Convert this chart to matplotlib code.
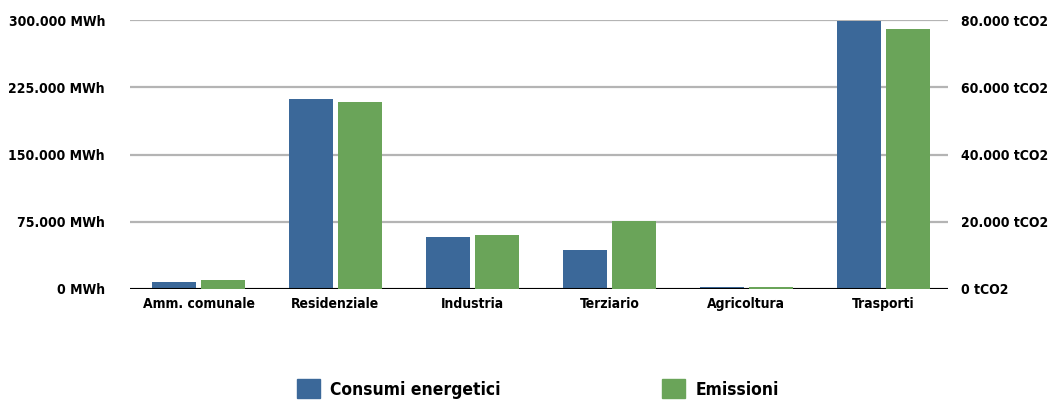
import matplotlib.pyplot as plt
from matplotlib.patches import Patch
from matplotlib.ticker import FuncFormatter
import numpy as np

categories = ["Amm. comunale", "Residenziale", "Industria", "Terziario", "Agricoltura", "Trasporti"]
consumi_mwh = [7500, 211500, 58500, 44000, 2600, 299000]
emissioni_tco2 = [2700, 55700, 16000, 20200, 600, 77500]

left_ticks = [0, 75000, 150000, 225000, 300000]
right_ticks = [0, 20000, 40000, 60000, 80000]

BLUE = "#3b6899"
GREEN = "#6aa459"

plt.rcParams['font.family'] = ['DejaVu Sans']
plt.rcParams['font.stretch'] = 'condensed'
plt.rcParams['font.weight'] = 'bold'


def it_fmt(unit):
    # Italian thousands separator
    return FuncFormatter(lambda v, _: f"{int(v):,}".replace(",", ".") + " " + unit)


fig = plt.figure(figsize=(10.59, 4.03), dpi=100)
ax = fig.add_axes([0.1228, 0.283, 0.772, 0.667])
ax2 = ax.twinx()

x = np.arange(len(categories))
w = 0.32
gap = 0.018
ax.bar(x - w / 2 - gap, consumi_mwh, width=w, color=BLUE, zorder=3)
ax2.bar(x + w / 2 + gap, emissioni_tco2, width=w, color=GREEN, zorder=3)

ax.set_xlim(-0.5, 5.47)
ax.set_ylim(0, 300000)
ax2.set_ylim(0, 80000)
ax.set_yticks(left_ticks)
ax2.set_yticks(right_ticks)
ax.yaxis.set_major_formatter(it_fmt("MWh"))
ax2.yaxis.set_major_formatter(it_fmt("tCO2"))

ax.set_xticks(x)
ax.set_xticklabels(categories)

ax.grid(axis='y', color='#b4b4b4', linewidth=1.6, zorder=0)
ax.set_axisbelow(True)

for a in (ax, ax2):
    for s in ('top', 'left', 'right', 'bottom'):
        a.spines[s].set_visible(False)
    a.tick_params(length=0, labelsize=10)
ax.tick_params(axis='y', pad=18)
ax2.tick_params(axis='y', pad=10)
ax.tick_params(axis='x', pad=6)
ax.axhline(0, color='black', linewidth=2.2, zorder=4)

handles = [Patch(color=BLUE, label="Consumi energetici"),
           Patch(color=GREEN, label="Emissioni")]
fig.legend(handles=handles, loc='center', bbox_to_anchor=(0.508, 0.035), ncol=2,
           frameon=False, fontsize=12.5, handlelength=1.3, handleheight=1.3,
           columnspacing=9.3, handletextpad=0.6)

fig.savefig("out.png", dpi=100)
